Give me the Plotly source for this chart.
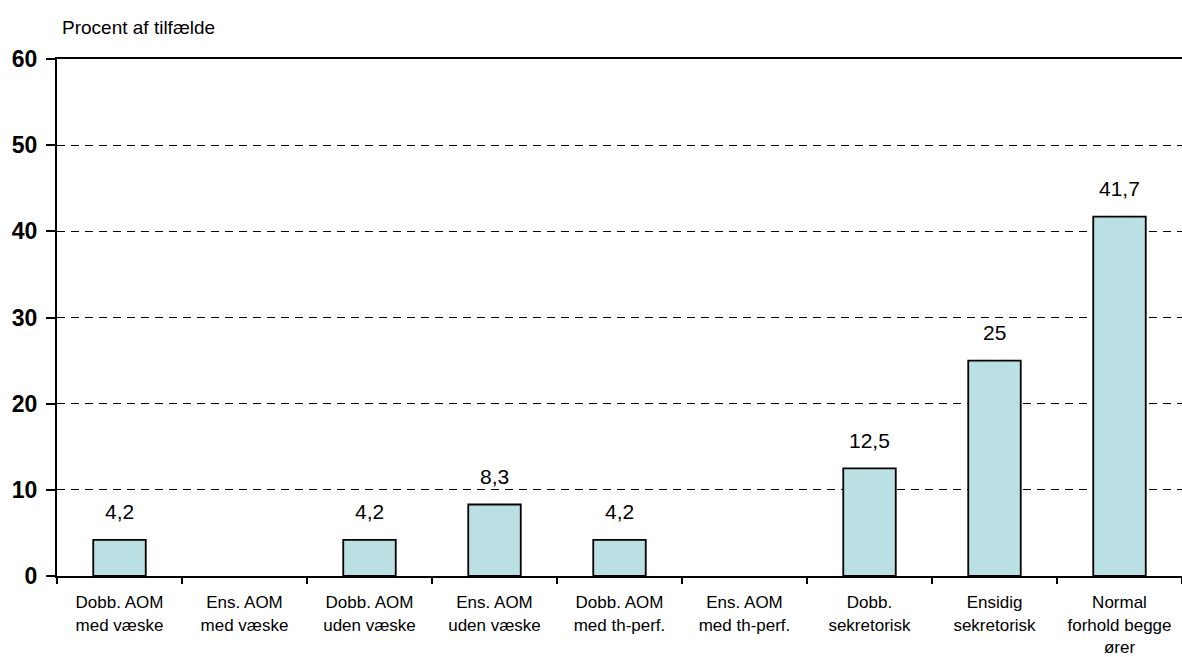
import plotly.graph_objects as go

categories = ['Dobb. AOM<br>med væske', 'Ens. AOM<br>med væske', 'Dobb. AOM<br>uden væske',
              'Ens. AOM<br>uden væske', 'Dobb. AOM<br>med th-perf.', 'Ens. AOM<br>med th-perf.',
              'Dobb.<br>sekretorisk', 'Ensidig<br>sekretorisk', 'Normal<br>forhold begge<br>ører']
values = [4.2, 0, 4.2, 8.3, 4.2, 0, 12.5, 25, 41.7]
y_ticks = [0, 10, 20, 30, 40, 50, 60]

font = 'Liberation Sans, Arial, sans-serif'

# danish decimal comma, no label on empty bars
labels = ['' if v == 0 else ('%g' % v).replace('.', ',') for v in values]
# empty bars get no outline either
outline = [0 if v == 0 else 1.8 for v in values]

fig = go.Figure()
fig.add_trace(go.Bar(x=categories, y=values, width=0.42,
                     marker=dict(color='#BAE0E3', line=dict(color='black', width=outline)),
                     hoverinfo='skip'))

for cat, v, lab in zip(categories, values, labels):
    if lab:
        fig.add_annotation(x=cat, y=v, text=lab, showarrow=False, yanchor='middle', yshift=28,
                           font=dict(family=font, size=21, color='black'))

fig.add_annotation(x=0, y=1, xref='paper', yref='paper', xanchor='left', yanchor='middle',
                   xshift=3, yshift=32, text='Procent af tilfælde', showarrow=False,
                   font=dict(family=font, size=19, color='black'))

fig.update_layout(
    width=1182, height=657,
    margin=dict(l=57, r=0, t=59, b=81),
    plot_bgcolor='white', paper_bgcolor='white',
    showlegend=False,
    xaxis=dict(tickson='boundaries', ticks='outside', ticklen=6, tickwidth=1.5, tickcolor='black',
               showline=True, linecolor='black', linewidth=2, mirror=True, showgrid=False,
               automargin=False, ticklabelstandoff=10,
               tickfont=dict(family=font, size=17, color='black')),
    yaxis=dict(range=[0, 60], tickvals=y_ticks, ticks='outside', ticklen=9, tickwidth=1.5,
               tickcolor='black', showline=True, linecolor='black', linewidth=2,
               showgrid=True, gridcolor='black', gridwidth=1, griddash='8px,6px',
               zeroline=False, ticklabelstandoff=4, automargin=False,
               tickfont=dict(family=font, size=23, color='black', weight='bold')),
)

# page has a default body margin; drop it so the figure fills the window
fig.write_html('out.html', config={'displayModeBar': False},
               post_script="document.body.style.margin='0';document.body.style.overflow='hidden';")
